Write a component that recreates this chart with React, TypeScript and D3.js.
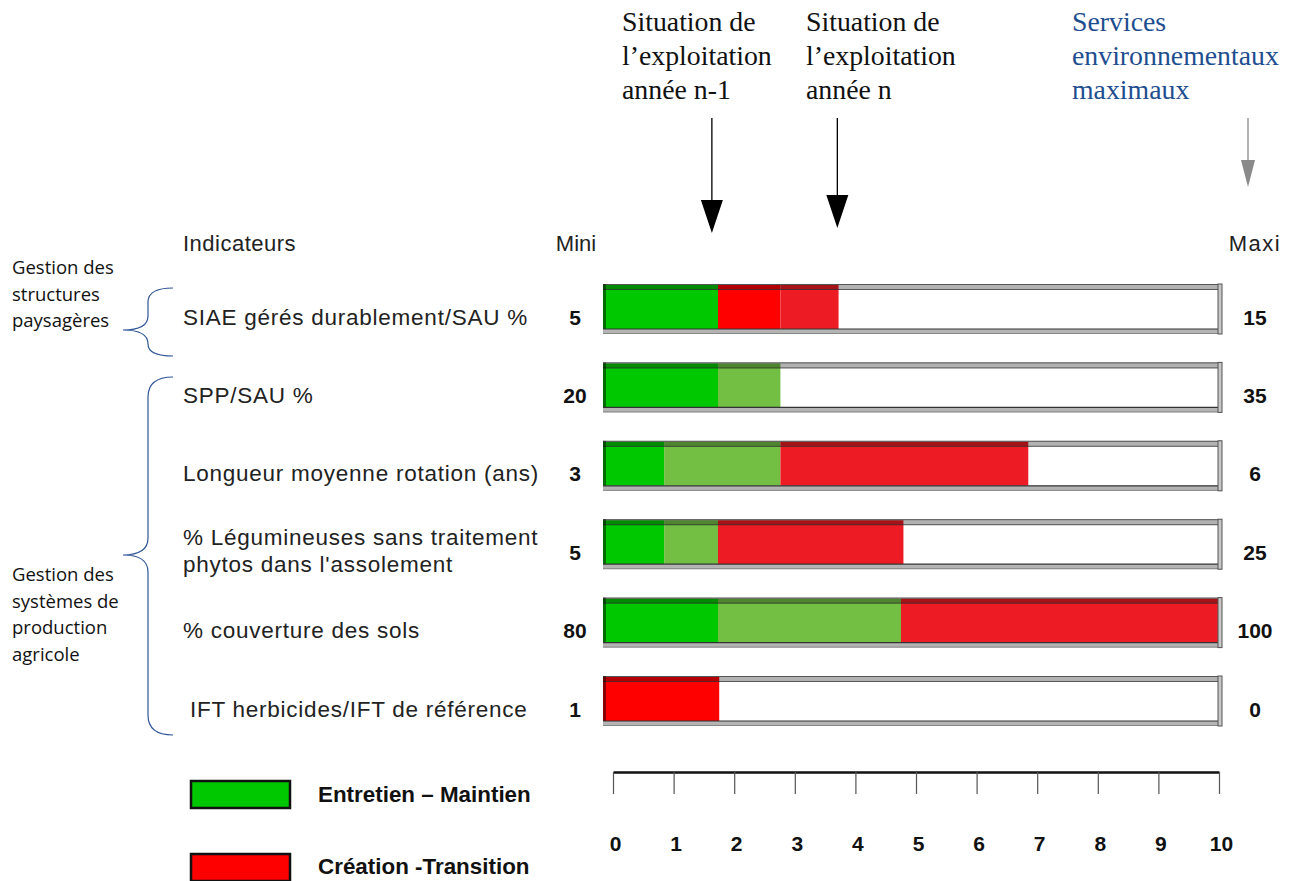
import React, { useEffect, useRef } from "react";
import * as d3 from "d3";

// indicateurs (lignes du tableau)
const indicateurs = [
  "SIAE gérés durablement/SAU %",
  "SPP/SAU %",
  "Longueur moyenne rotation (ans)",
  "% Légumineuses sans traitement|phytos dans l'assolement",
  "% couverture des sols",
  "IFT herbicides/IFT de référence",
];
const mini = ["5", "20", "3", "5", "80", "1"];
const maxi = ["15", "35", "6", "25", "100", "0"];

// fin de chaque segment (échelle 0-10) et sa couleur
const finsSegments = [
  [1.83, 2.85, 3.8],
  [1.83, 2.85],
  [0.95, 2.85, 6.9],
  [0.95, 1.83, 4.86],
  [1.83, 4.82, 10],
  [1.85],
];
const couleursSegments = [
  ["vert", "rouge", "rougeFonce"],
  ["vert", "vertClair"],
  ["vert", "vertClair", "rougeFonce"],
  ["vert", "vertClair", "rougeFonce"],
  ["vert", "vertClair", "rougeFonce"],
  ["rouge"],
];
const palette = {
  vert: "#00c800",
  vertClair: "#72bf44",
  rouge: "#ff0000",
  rougeFonce: "#ed1c24",
};

// flèches de situation
const situations = ["Situation de|l’exploitation|année n-1", "Situation de|l’exploitation|année n"];
const situationValeurs = [1.73, 3.78];
const servicesTexte = "Services|environnementaux|maximaux";

const graduations = [0, 1, 2, 3, 4, 5, 6, 7, 8, 9, 10];

const legende = ["Entretien – Maintien", "Création -Transition"];
const legendeCouleurs = ["vert", "rouge"];

const groupes = ["Gestion des|structures|paysagères", "Gestion des|systèmes de|production|agricole"];

const sans = "'Liberation Sans', Arial, sans-serif";
const serif = "'Liberation Serif', 'Times New Roman', serif";

const App = () => {
  const axisRef = useRef<SVGGElement>(null);

  const width = 1296;
  const height = 881;

  const xBar = d3.scaleLinear().domain([0, 10]).range([606, 1218]);
  const xAxe = d3.scaleLinear().domain([0, 10]).range([613, 1219]);
  const yRow = d3.scalePoint<string>().domain(indicateurs).range([309, 701]);
  const barH = 50;
  const frameL = 603;
  const frameR = 1222;

  useEffect(() => {
    const g = d3.select(axisRef.current);
    g.selectAll("*").remove();
    const axis = d3
      .axisBottom(xAxe)
      .tickValues(graduations)
      .tickSize(22)
      .tickSizeOuter(0)
      .tickPadding(42)
      .tickFormat((d) => `${d}`);
    g.call(axis as any);
    g.select(".domain").attr("stroke", "#111").attr("stroke-width", 2.5);
    g.selectAll(".tick line").attr("stroke", "#555").attr("stroke-width", 1.2);
    g.selectAll(".tick text")
      .attr("fill", "#111")
      .attr("dx", 2)
      .style("font-family", sans)
      .style("font-size", "21px")
      .style("font-weight", "bold");
  }, []);

  const fleche = (x: number, yTop: number, yHead: number, yEnd: number, half: number, color: string) => (
    <g>
      <line x1={x} x2={x} y1={yTop} y2={yHead} stroke={color} strokeWidth={1.3} />
      <path d={`M${x - half},${yHead} L${x + half},${yHead} L${x},${yEnd} Z`} fill={color} />
    </g>
  );

  return (
    <svg width={width} height={height} style={{ position: "absolute", left: 0, top: 0, background: "#fff" }}>
      {/* en-têtes des flèches */}
      {situations.map((s, i) => (
        <text key={i} x={i === 0 ? 622 : 806} y={31} style={{ fontFamily: serif, fontSize: 27.8 }} fill="#111">
          {s.split("|").map((l, j) => (
            <tspan key={j} x={i === 0 ? 622 : 806} y={31 + j * 34}>
              {l}
            </tspan>
          ))}
        </text>
      ))}
      <text x={1072} y={31} style={{ fontFamily: serif, fontSize: 27.8 }} fill="#1f4e8f">
        {servicesTexte.split("|").map((l, j) => (
          <tspan key={j} x={1072} y={31 + j * 34}>
            {l}
          </tspan>
        ))}
      </text>
      {situationValeurs.map((v, i) =>
        <g key={i}>{fleche(xBar(v), 118, i === 0 ? 200 : 195, i === 0 ? 233 : 228, 11, "#000")}</g>
      )}
      {fleche(1248, 118, 160, 187, 7, "#8a8a8a")}

      {/* titres colonnes */}
      <text x={183} y={251} style={{ fontFamily: sans, fontSize: 22 }} fill="#222" letterSpacing={0.5}>
        Indicateurs
      </text>
      <text x={576} y={251} textAnchor="middle" style={{ fontFamily: sans, fontSize: 22 }} fill="#222">
        Mini
      </text>
      <text x={1255} y={251} textAnchor="middle" style={{ fontFamily: sans, fontSize: 22 }} fill="#222" letterSpacing={1.5}>
        Maxi
      </text>

      {/* groupes et accolades */}
      {groupes.map((gr, i) => (
        <text key={i} x={12} y={i === 0 ? 274 : 581} style={{ fontFamily: "'Open Sans', sans-serif", fontSize: 18.5 }} fill="#111">
          {gr.split("|").map((l, j) => (
            <tspan key={j} x={12} y={(i === 0 ? 274 : 581) + j * 26.5}>
              {l}
            </tspan>
          ))}
        </text>
      ))}
      <path
        d="M173,288 Q148,288 148,302 L148,316 Q148,330 123,330 Q148,330 148,344 L148,344 Q148,356 173,356"
        fill="none"
        stroke="#2f5597"
        strokeWidth={1.2}
      />
      <path
        d="M173,377 Q148,377 148,397 L148,538 Q148,555 123,555 Q148,555 148,572 L148,715 Q148,735 173,735"
        fill="none"
        stroke="#2f5597"
        strokeWidth={1.2}
      />

      {/* lignes */}
      {indicateurs.map((ind, i) => {
        const c = yRow(ind) as number;
        const top = c - barH / 2;
        const bottom = c + barH / 2;
        const lignes = ind.split("|");
        const fins = finsSegments[i];
        const debuts = [0, ...fins.slice(0, -1)];
        return (
          <g key={ind}>
            {lignes.map((l, j) => (
              <text
                key={j}
                x={i === 5 ? 190 : 183}
                y={c + 8 + (lignes.length > 1 ? (j === 0 ? -15 : 12) : 0)}
                dominantBaseline="central"
                style={{ fontFamily: sans, fontSize: 22.5 }}
                letterSpacing={0.75}
                fill="#222"
              >
                {l}
              </text>
            ))}
            <text x={575} y={c + 8} textAnchor="middle" dominantBaseline="central" style={{ fontFamily: sans, fontSize: 21, fontWeight: "bold" }} fill="#111">
              {mini[i]}
            </text>
            <text x={1255} y={c + 8} textAnchor="middle" dominantBaseline="central" style={{ fontFamily: sans, fontSize: 21, fontWeight: "bold" }} fill="#111">
              {maxi[i]}
            </text>

            <rect x={frameL} y={top} width={frameR - frameL} height={barH} fill="#fff" />
            {fins.map((f, k) => (
              <rect
                key={k}
                x={k === 0 ? frameL : xBar(debuts[k])}
                y={top + 1}
                width={xBar(f) - (k === 0 ? frameL : xBar(debuts[k]))}
                height={barH - 6}
                fill={(palette as any)[couleursSegments[i][k]]}
              />
            ))}
            {/* cadre */}
            <rect x={frameL} y={top} width={frameR - frameL} height={6} fill="#000" opacity={0.3} />
            <line x1={frameL} x2={frameR} y1={top + 0.5} y2={top + 0.5} stroke="#555" strokeWidth={1} />
            <line x1={frameL} x2={frameR} y1={top + 5.5} y2={top + 5.5} stroke="#333" strokeWidth={1} opacity={0.7} />
            <rect x={frameL} y={top} width={3} height={barH - 5} fill="#000" opacity={0.45} />
            <rect x={frameL} y={bottom - 5} width={frameR - frameL} height={5} fill="#b4b4b4" />
            <line x1={frameL} x2={frameR} y1={bottom - 5} y2={bottom - 5} stroke="#333" strokeWidth={1.2} />
            <line x1={frameL} x2={frameR} y1={bottom - 0.5} y2={bottom - 0.5} stroke="#888" strokeWidth={1} />
            <rect x={1218} y={top} width={4} height={barH} fill="#c8c8c8" stroke="#555" strokeWidth={1} />
          </g>
        );
      })}

      {/* axe 0-10 */}
      <g ref={axisRef} transform="translate(0,772)" />

      {/* légende */}
      {legende.map((l, i) => (
        <g key={l}>
          <rect x={191} y={781 + i * 73} width={99} height={27} fill={(palette as any)[legendeCouleurs[i]]} stroke="#111" strokeWidth={2.5} />
          <text x={318} y={794 + i * 72} dominantBaseline="central" style={{ fontFamily: sans, fontSize: 22.4, fontWeight: "bold" }} fill="#111">
            {l}
          </text>
        </g>
      ))}
    </svg>
  );
};

export default App;
